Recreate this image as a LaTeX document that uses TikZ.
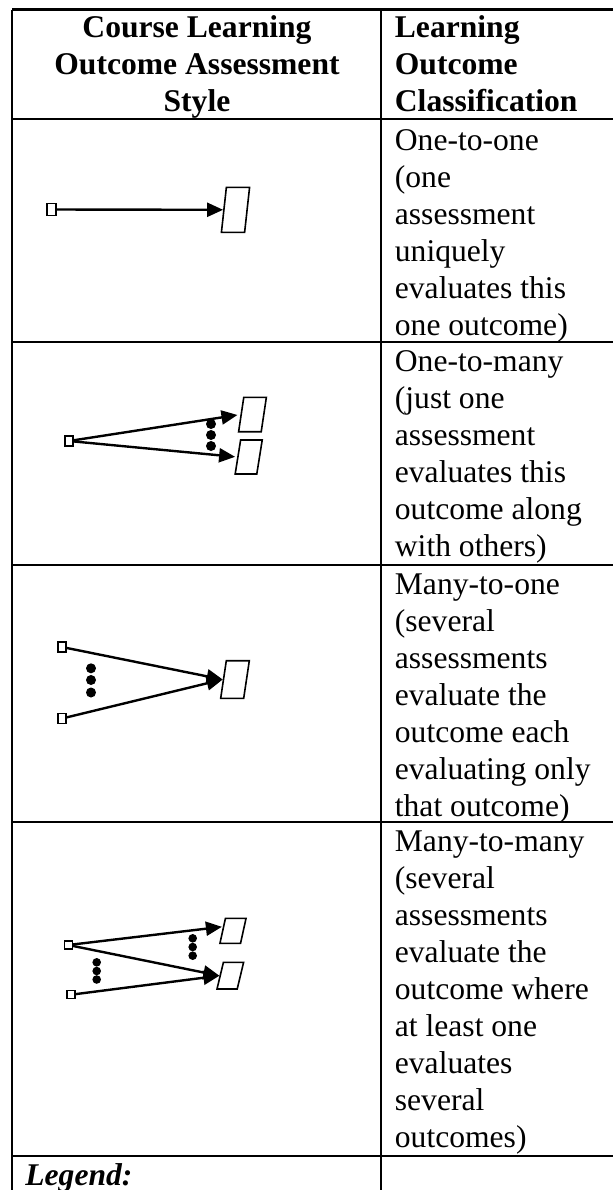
\documentclass[tikz,border=0pt]{standalone}
\usepackage{fontspec}
\setmainfont{Liberation Serif}
\usetikzlibrary{arrows.meta}
\tikzset{
  cell/.style={anchor=north west, align=left, inner sep=0pt, font=\fontsize{15.8}{18.5}\selectfont},
  headcell/.style={cell, font=\fontsize{15.8}{18.5}\selectfont\bfseries},
  gridline/.style={line width=1.2pt},
  asmt/.style={draw, rectangle, line width=0.7pt, inner sep=0pt, minimum width=4pt, minimum height=5pt},
  outc/.style={draw, rectangle, inner sep=0pt, line width=0.8pt, transform shape},
  link/.style={line width=1.2pt, -{Triangle[length=8pt,width=7pt]}},
  dot/.style={circle, fill, inner sep=0pt, minimum size=5pt}
}
\begin{document}
\begin{tikzpicture}[x=0.5pt, y=-0.5pt]
\useasboundingbox (0,0) rectangle (613,1190);
%% table lines
  \draw[gridline] (12,9.5) -- (613,9.5);
  \draw[gridline] (12,119) -- (613,119);
  \draw[gridline] (12,342) -- (613,342);
  \draw[gridline] (12,565) -- (613,565);
  \draw[gridline] (12,822) -- (613,822);
  \draw[gridline] (12,1156) -- (613,1156);
  \draw[gridline] (12,9.5) -- (12,1190);
  \draw[gridline] (381,9.5) -- (381,1190);
%% header
	\node[headcell, align=center, anchor=north] (headL) at (197,11.1) {\strut Course Learning\\Outcome Assessment\\Style};
	\node[headcell] (headR) at (394.5,11.1) {\strut Learning\\Outcome\\Classification};
%% first row: one-to-one
	\node[asmt, minimum width=4.5pt, minimum height=6pt] (a1) at (51.5,209.5) {};
	\node[outc, xslant=0.11, minimum width=11.6pt, minimum height=22.5pt] (o1) at (235.5,209.8) {};
  \draw[link] (a1) -- (o1.west);
	\node[cell] (c1) at (394.5,124.1) {\strut One-to-one\\(one\\assessment\\uniquely\\evaluates this\\one outcome)};
%% second row: one-to-many
	\node[asmt] (a2) at (69,441) {};
	\node[outc, xslant=0.15, minimum width=11.3pt, minimum height=17.2pt] (o2a) at (252.5,414.5) {};
	\node[outc, xslant=0.16, minimum width=10.8pt, minimum height=17pt] (o2b) at (248.7,457) {};
	\node[dot] (d2a) at (211,424) {};
	\node[dot] (d2b) at (211,435) {};
	\node[dot] (d2c) at (211,446) {};
  \draw[link, shorten >=1.5pt] (a2) -- (o2a.west);
  \draw[link, shorten >=1pt] (a2) -- (o2b.west);
	\node[cell] (c2) at (394.5,345.1) {\strut One-to-many\\(just one\\assessment\\evaluates this\\outcome along\\with others)};
%% third row: many-to-one
	\node[asmt] (a3a) at (62,647) {};
	\node[asmt] (a3b) at (62,718.5) {};
	\node[outc, xslant=0.15, minimum width=11.5pt, minimum height=18.8pt] (o3) at (235,679.5) {};
	\node[dot] (d3a) at (91,668.3) {};
	\node[dot] (d3b) at (91,680) {};
	\node[dot] (d3c) at (91,692.5) {};
  \draw[link] (a3a) -- (o3.west);
  \draw[link] (a3b) -- (o3.west);
	\node[cell] (c3) at (394.5,568.1) {\strut Many-to-one\\(several\\assessments\\evaluate the\\outcome each\\evaluating only\\that outcome)};
%% fourth row: many-to-many
	\node[asmt, minimum height=4pt] (a4a) at (68.3,945) {};
	\node[asmt, minimum height=4pt] (a4b) at (71,994.7) {};
	\node[outc, xslant=0.22, minimum width=10.3pt, minimum height=12.5pt] (o4a) at (233,930.8) {};
	\node[outc, xslant=0.24, minimum width=10.1pt, minimum height=13.3pt] (o4b) at (230.3,975.7) {};
	\node[dot, minimum size=4.3pt] (d4a) at (192.7,938.3) {};
	\node[dot, minimum size=4.3pt] (d4b) at (192.7,947) {};
	\node[dot, minimum size=4.3pt] (d4c) at (192.7,955.7) {};
	\node[dot, minimum size=4.3pt] (d4d) at (96.7,962.3) {};
	\node[dot, minimum size=4.3pt] (d4e) at (96.7,971) {};
	\node[dot, minimum size=4.3pt] (d4f) at (96.7,979.5) {};
  \draw[link] (a4a) -- ([yshift=2pt]o4a.west);
  \draw[link] (a4a) -- (o4b.west);
  \draw[link] (a4b) -- (o4b.west);
	\node[cell] (c4) at (394.5,825.1) {\strut Many-to-many\\(several\\assessments\\evaluate the\\outcome where\\at least one\\evaluates\\several\\outcomes)};
%% legend row
	\node[cell, font=\fontsize{15.8}{18.5}\selectfont\bfseries\itshape] (legend) at (25,1159.1) {\strut Legend:};
\end{tikzpicture}
\end{document}
